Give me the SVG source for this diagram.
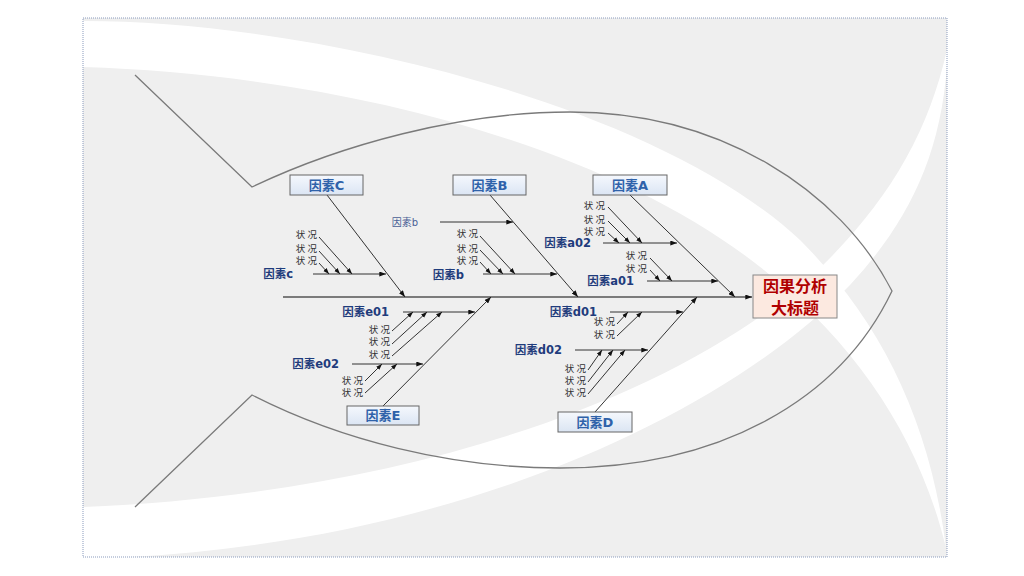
<svg xmlns="http://www.w3.org/2000/svg" width="1024" height="576" viewBox="0 0 1024 576">
<defs>
<style>
.bone{stroke:#333;stroke-width:1;fill:none}
.spine{stroke:#555;stroke-width:1.4;fill:none}
.fish{stroke:#7a7a7a;stroke-width:1.3;fill:none}
.box{fill:url(#bg);stroke:#666;stroke-width:1}
.bt{font-family:"DejaVu Sans","Noto Sans CJK SC",sans-serif;font-weight:bold;font-size:13px;fill:#2f62aa;text-anchor:middle}
.lb{font-family:"DejaVu Sans","Noto Sans CJK SC",sans-serif;font-weight:bold;font-size:11.5px;fill:#1f3c7c;text-anchor:end}
.sm{font-family:"DejaVu Sans","Noto Sans CJK SC",sans-serif;font-size:10px;fill:#4a5f95;text-anchor:end}
.zk{font-family:"Noto Sans CJK SC",sans-serif;font-size:9.5px;fill:#333;text-anchor:end}
.ht{font-family:"Noto Sans CJK SC",sans-serif;font-weight:bold;font-size:16px;fill:#b00000;text-anchor:middle}
</style>
<linearGradient id="bg" x1="0" y1="0" x2="0" y2="1"><stop offset="0" stop-color="#f5f8fd"/><stop offset="1" stop-color="#dbe5f3"/></linearGradient>
<marker id="ah" viewBox="0 0 8 6" refX="8" refY="3" markerWidth="7" markerHeight="5" markerUnits="userSpaceOnUse" orient="auto"><path d="M0,0 L8,3 L0,6 z" fill="#111"/></marker>
<marker id="as" viewBox="0 0 8 6" refX="8" refY="3" markerWidth="6" markerHeight="5" markerUnits="userSpaceOnUse" orient="auto"><path d="M0,0 L8,3 L0,6 z" fill="#111"/></marker>
<clipPath id="fr"><rect x="83" y="18" width="864" height="539"/></clipPath>
</defs>
<g id="background">
<rect x="0" y="0" width="1024" height="576" fill="#fff"/>
<rect x="83" y="18" width="864" height="539" fill="#efefef"/>
<g clip-path="url(#fr)" fill="#fff">
<path d="M80,21 C300,20 650,100 800,240 C880,320 930,420 946,548 C920,440 860,350 770,275 C620,150 350,75 80,67 Z"/>
<path d="M80,507 C400,495 680,400 820,268 C890,200 930,130 948,45 C945,150 910,220 850,285 C720,420 450,540 130,557 L80,560 Z"/>
</g>
<rect x="83" y="18" width="864" height="539" fill="none" stroke="#8a9bbd" stroke-width="1" stroke-dasharray="1,1"/>
</g>
<g id="fish">
<path class="fish" d="M135,75 L252,187 C340,145 460,112 570,112 C720,112 840,190 892,291 C840,400 720,468 560,468 C450,468 340,440 252,395 L135,507"/>
</g>
<g id="connectors">
<line class="spine" x1="283" y1="297" x2="752" y2="297" marker-end="url(#ah)"/>
<line class="bone" x1="327" y1="195" x2="405" y2="297" marker-end="url(#ah)"/>
<line class="bone" x1="490" y1="195" x2="578" y2="297" marker-end="url(#ah)"/>
<line class="bone" x1="630" y1="195" x2="735" y2="297" marker-end="url(#ah)"/>
<line class="bone" x1="383" y1="406" x2="491" y2="297" marker-end="url(#ah)"/>
<line class="bone" x1="595" y1="412" x2="697" y2="297" marker-end="url(#ah)"/>
<line class="bone" x1="313" y1="274" x2="386" y2="274" marker-end="url(#ah)"/>
<line class="bone" x1="319" y1="237" x2="352" y2="274" marker-end="url(#as)"/>
<line class="bone" x1="319" y1="251" x2="340" y2="274" marker-end="url(#as)"/>
<line class="bone" x1="319" y1="263" x2="329" y2="274" marker-end="url(#as)"/>
<line class="bone" x1="440" y1="222" x2="513" y2="222" marker-end="url(#ah)"/>
<line class="bone" x1="483" y1="274" x2="557" y2="274" marker-end="url(#ah)"/>
<line class="bone" x1="480" y1="236" x2="515" y2="274" marker-end="url(#as)"/>
<line class="bone" x1="480" y1="250" x2="503" y2="274" marker-end="url(#as)"/>
<line class="bone" x1="480" y1="262" x2="491" y2="274" marker-end="url(#as)"/>
<line class="bone" x1="603" y1="243" x2="677" y2="243" marker-end="url(#ah)"/>
<line class="bone" x1="608" y1="207" x2="642" y2="243" marker-end="url(#as)"/>
<line class="bone" x1="608" y1="221" x2="630" y2="243" marker-end="url(#as)"/>
<line class="bone" x1="608" y1="233" x2="619" y2="243" marker-end="url(#as)"/>
<line class="bone" x1="647" y1="281" x2="718" y2="281" marker-end="url(#ah)"/>
<line class="bone" x1="650" y1="258" x2="672" y2="281" marker-end="url(#as)"/>
<line class="bone" x1="650" y1="270" x2="660" y2="281" marker-end="url(#as)"/>
<line class="bone" x1="403" y1="312" x2="475" y2="312" marker-end="url(#ah)"/>
<line class="bone" x1="392" y1="331" x2="413" y2="312" marker-end="url(#as)"/>
<line class="bone" x1="392" y1="344" x2="427" y2="312" marker-end="url(#as)"/>
<line class="bone" x1="392" y1="356" x2="442" y2="312" marker-end="url(#as)"/>
<line class="bone" x1="352" y1="364" x2="423" y2="364" marker-end="url(#ah)"/>
<line class="bone" x1="365" y1="381" x2="382" y2="364" marker-end="url(#as)"/>
<line class="bone" x1="365" y1="393" x2="397" y2="364" marker-end="url(#as)"/>
<line class="bone" x1="610" y1="312" x2="683" y2="312" marker-end="url(#ah)"/>
<line class="bone" x1="617" y1="324" x2="628" y2="312" marker-end="url(#as)"/>
<line class="bone" x1="617" y1="336" x2="642" y2="312" marker-end="url(#as)"/>
<line class="bone" x1="575" y1="350" x2="648" y2="350" marker-end="url(#ah)"/>
<line class="bone" x1="588" y1="370" x2="602" y2="350" marker-end="url(#as)"/>
<line class="bone" x1="588" y1="382" x2="613" y2="350" marker-end="url(#as)"/>
<line class="bone" x1="588" y1="394" x2="625" y2="350" marker-end="url(#as)"/>
</g>
<g id="head">
<rect x="753" y="275" width="84" height="43" fill="#fce9e0" stroke="#888" stroke-width="1"/>
<text class="ht" x="795" y="292">因果分析</text>
<text class="ht" x="795" y="314">大标题</text>
</g>
<g id="factorC"><rect class="box" x="290" y="175" width="73" height="20"/><text class="bt" x="326.5" y="190">因素C</text></g>
<g id="factorB"><rect class="box" x="453" y="175" width="73" height="20"/><text class="bt" x="489.5" y="190">因素B</text></g>
<g id="factorA"><rect class="box" x="593" y="175" width="74" height="20"/><text class="bt" x="630" y="190">因素A</text></g>
<g id="factorE"><rect class="box" x="347" y="406" width="72" height="19"/><text class="bt" x="383" y="420">因素E</text></g>
<g id="factorD"><rect class="box" x="558" y="412" width="74" height="20"/><text class="bt" x="595" y="427">因素D</text></g>
<g id="labels">
<text class="lb" x="293" y="278">因素c</text>
<text class="zk" x="317" y="237.5">状 况</text>
<text class="zk" x="317" y="251.5">状 况</text>
<text class="zk" x="317" y="264">状 况</text>
<text class="sm" x="418" y="225.5">因素b</text>
<text class="lb" x="464" y="278.5">因素b</text>
<text class="zk" x="478" y="237">状 况</text>
<text class="zk" x="478" y="251.5">状 况</text>
<text class="zk" x="478" y="263.5">状 况</text>
<text class="lb" x="591" y="247">因素a02</text>
<text class="zk" x="605" y="208.5">状 况</text>
<text class="zk" x="605" y="222.5">状 况</text>
<text class="zk" x="605" y="234.5">状 况</text>
<text class="lb" x="634" y="285">因素a01</text>
<text class="zk" x="647" y="258.5">状 况</text>
<text class="zk" x="647" y="271.5">状 况</text>
<text class="lb" x="389" y="316">因素e01</text>
<text class="zk" x="390" y="333">状 况</text>
<text class="zk" x="390" y="345">状 况</text>
<text class="zk" x="390" y="357.5">状 况</text>
<text class="lb" x="339" y="368">因素e02</text>
<text class="zk" x="363" y="383.5">状 况</text>
<text class="zk" x="363" y="395.5">状 况</text>
<text class="lb" x="597" y="316">因素d01</text>
<text class="zk" x="615" y="325">状 况</text>
<text class="zk" x="615" y="337.5">状 况</text>
<text class="lb" x="562" y="353.5">因素d02</text>
<text class="zk" x="586" y="371.5">状 况</text>
<text class="zk" x="586" y="383.5">状 况</text>
<text class="zk" x="586" y="395.5">状 况</text>
</g>
</svg>
